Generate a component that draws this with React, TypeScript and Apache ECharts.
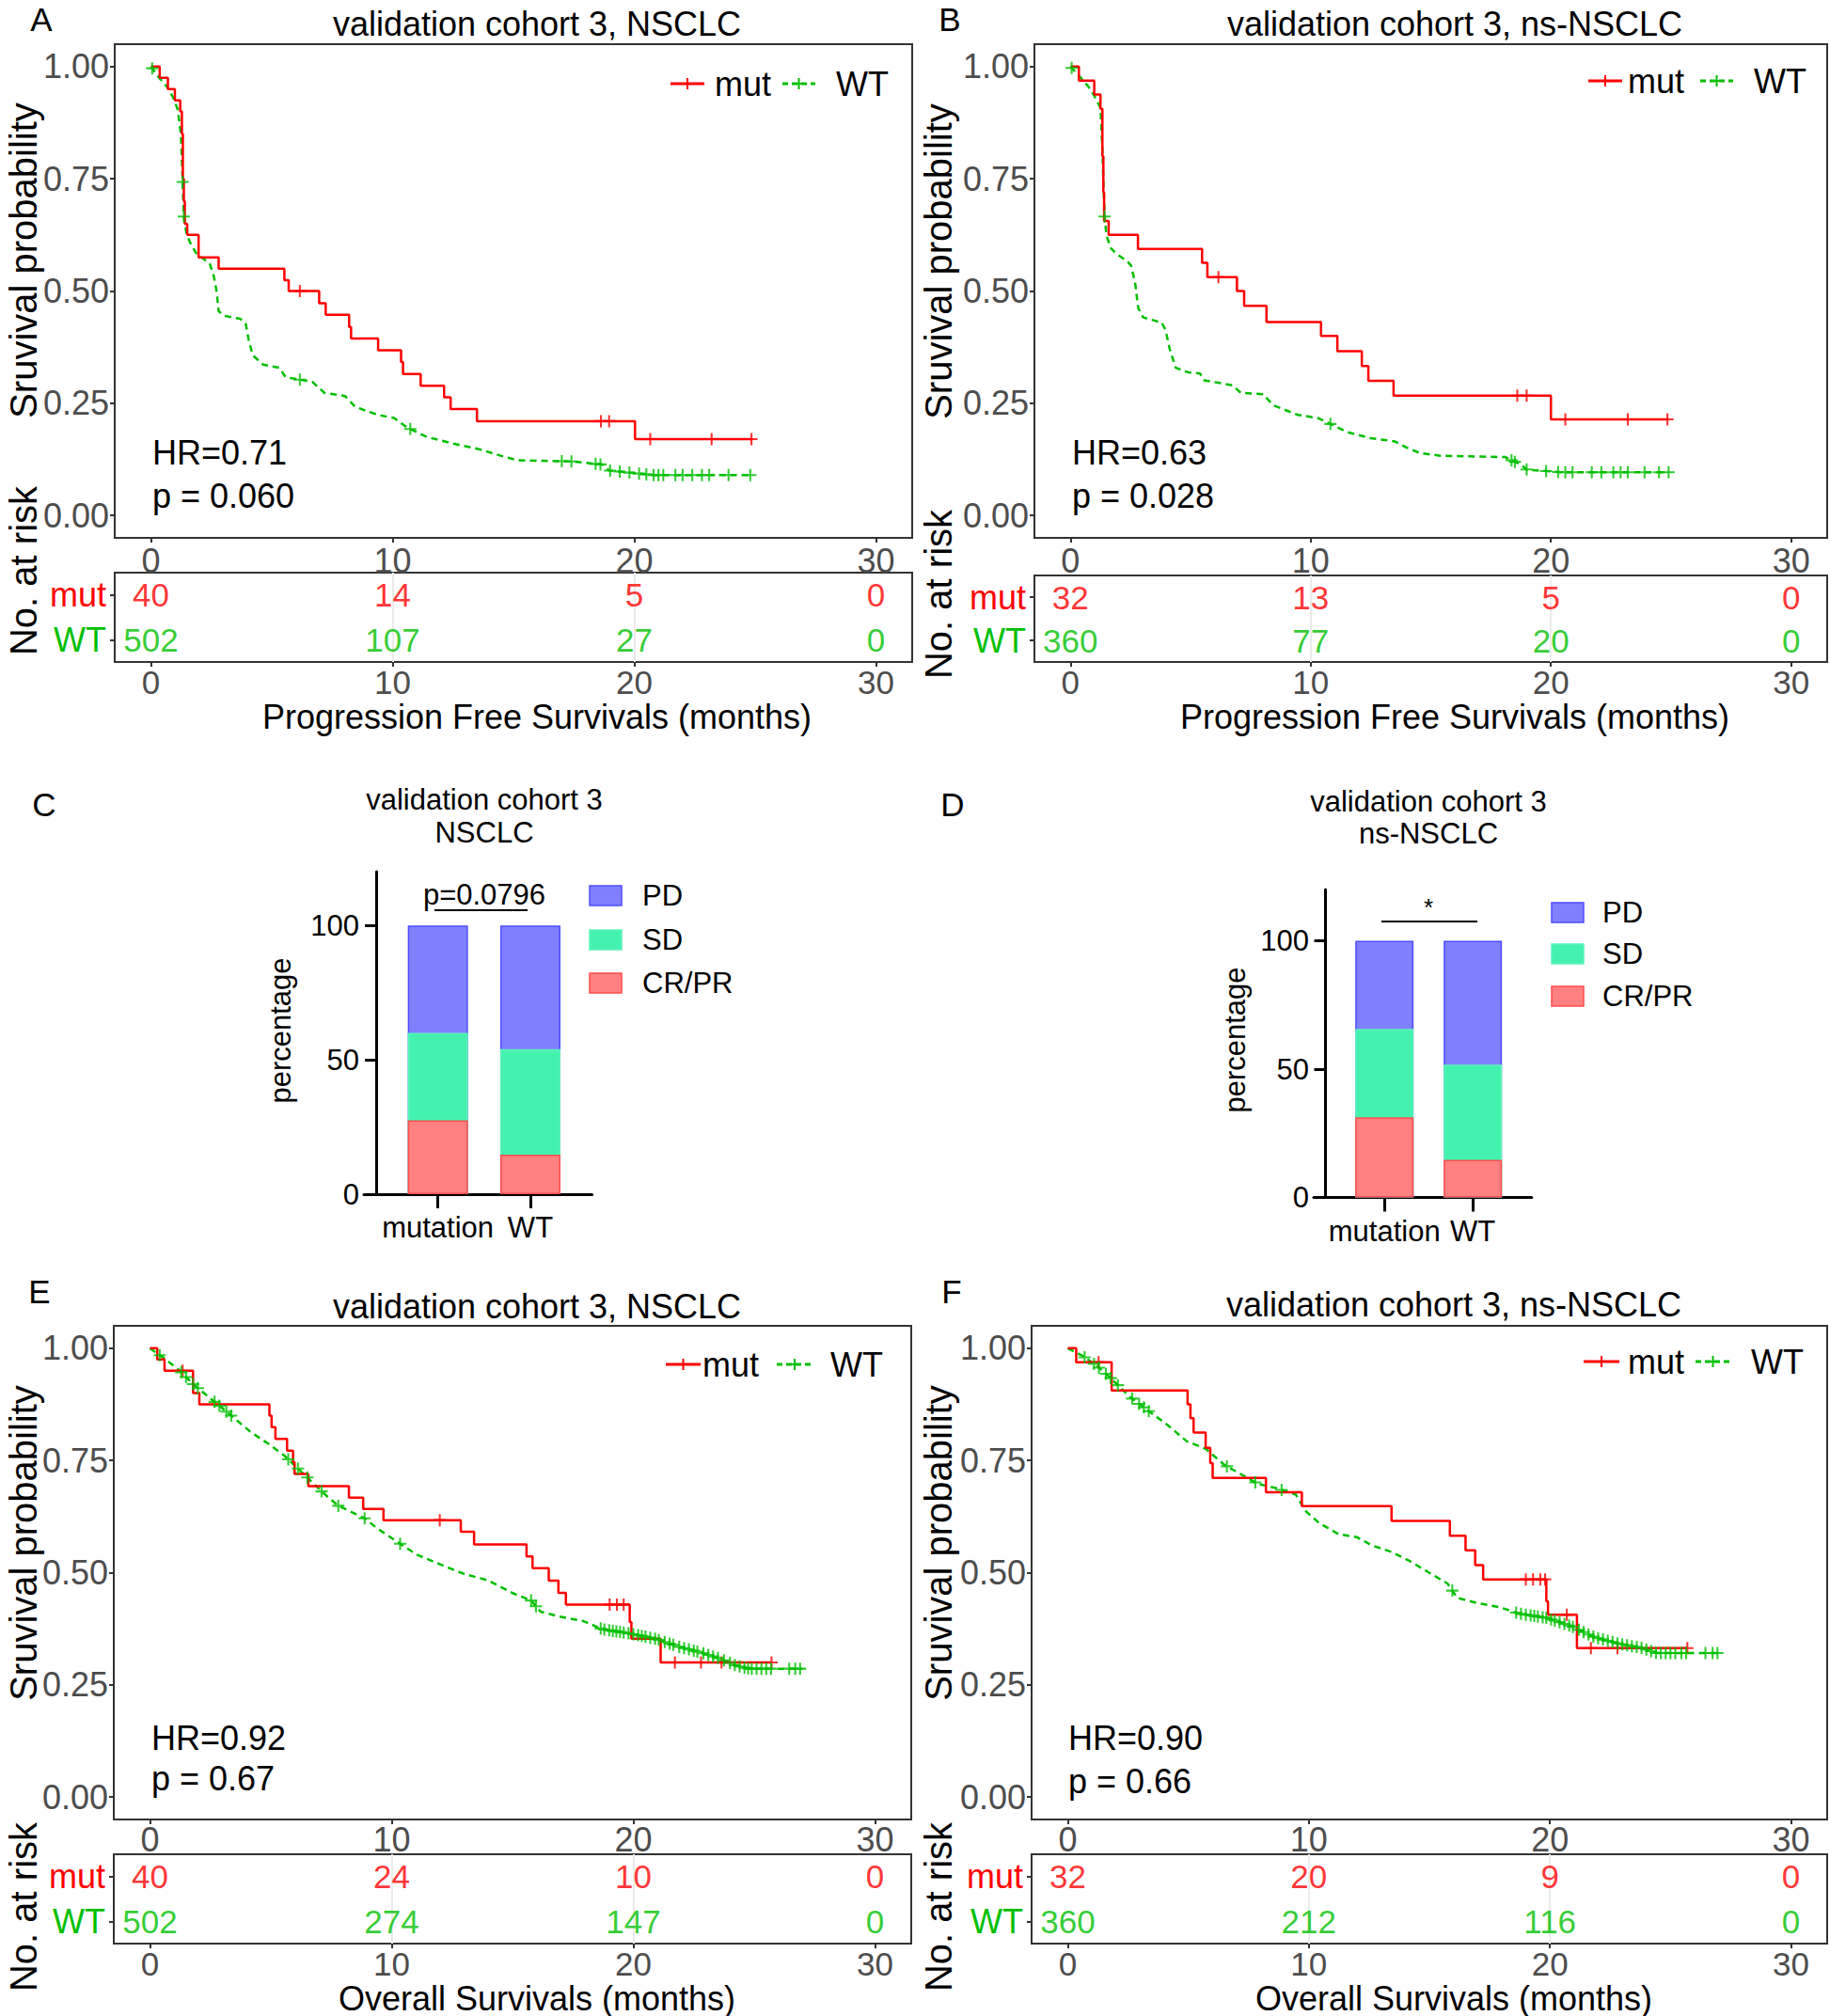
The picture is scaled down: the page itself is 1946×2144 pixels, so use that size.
import React, { useEffect, useRef } from 'react';
import * as echarts from 'echarts';

const FONT = "'Liberation Sans', Arial, Helvetica, sans-serif";
const RED = '#FF0000';
const GREEN = '#00BF00';
const AXIS_TEXT = '#4D4D4D';
const FRAME = '#333333';
const PD_COLOR = '#8080FF';
const PD_BORDER = '#4D4DFF';
const SD_COLOR = '#44F2AF';
const SD_BORDER = '#5CF4BA';
const CR_COLOR = '#FF8080';
const CR_BORDER = '#FF4D4D';

// ---------- shared ticks ----------
const timeTicks = [0, 10, 20, 30];
const survTicks = [0, 0.25, 0.5, 0.75, 1];
const pctTicks = [0, 50, 100];
const riskGroups = ['mut', 'WT'];

// ---------- Panel A: PFS, NSCLC ----------
const pfsNsclcMutTimes = [0, 0.36, 0.7, 0.99, 1.21, 1.28, 1.32, 1.36, 1.4, 1.5, 1.97, 2.8, 5.52, 5.7, 6.96, 7.23, 8.2, 8.28, 9.4, 10.35, 10.43, 11.16, 12.13, 12.4, 13.49, 20.03, 24.9];
const pfsNsclcMutSurv = [1, 0.975, 0.95, 0.925, 0.9, 0.85, 0.75, 0.7, 0.65, 0.625, 0.575, 0.55, 0.524, 0.5, 0.473, 0.447, 0.42, 0.394, 0.368, 0.342, 0.315, 0.289, 0.263, 0.237, 0.21, 0.17, 0.17];
const pfsNsclcMutCensor = [6.16, 18.62, 18.96, 20.66, 23.2, 24.85];
const pfsNsclcWtTimes = [0, 0.31, 0.69, 0.91, 1.11, 1.24, 1.31, 1.36, 1.46, 1.6, 1.86, 2.09, 2.43, 2.6, 2.72, 2.8, 3.03, 3.7, 3.92, 4.04, 4.21, 4.64, 5.31, 5.57, 6.67, 7.18, 8.03, 8.45, 9.38, 10.06, 10.6, 11.41, 12.43, 13.62, 14.47, 15.15, 17.5, 18.71, 18.96, 20.8, 24.9];
const pfsNsclcWtSurv = [1, 0.977, 0.953, 0.932, 0.904, 0.848, 0.743, 0.666, 0.631, 0.61, 0.585, 0.575, 0.561, 0.533, 0.498, 0.455, 0.445, 0.438, 0.427, 0.392, 0.357, 0.336, 0.329, 0.308, 0.298, 0.273, 0.266, 0.242, 0.224, 0.217, 0.196, 0.175, 0.161, 0.147, 0.133, 0.123, 0.12, 0.113, 0.1, 0.09, 0.09];
const pfsNsclcWtCensor = [0.05, 1.31, 1.36, 6.16, 10.73, 17.0, 17.4, 18.4, 18.6, 19.0, 19.4, 19.8, 20.2, 20.5, 20.8, 21.0, 21.2, 21.7, 22.0, 22.4, 22.8, 23.1, 23.9, 24.8];
const pfsNsclcRiskMut = [40, 14, 5, 0];
const pfsNsclcRiskWt = [502, 107, 27, 0];

// ---------- Panel B: PFS, ns-NSCLC ----------
const pfsNsMutTimes = [0, 0.35, 0.99, 1.25, 1.33, 1.37, 1.4, 1.59, 2.81, 5.48, 5.7, 6.93, 7.23, 8.16, 10.43, 11.11, 12.13, 12.4, 13.45, 20.0, 24.9];
const pfsNsMutSurv = [1, 0.969, 0.938, 0.906, 0.8, 0.72, 0.656, 0.625, 0.594, 0.563, 0.531, 0.5, 0.467, 0.431, 0.4, 0.366, 0.333, 0.3, 0.267, 0.214, 0.214];
const pfsNsMutCensor = [6.16, 18.6, 18.99, 20.6, 23.2, 24.85];
const pfsNsWtTimes = [0, 0.33, 0.74, 0.99, 1.25, 1.33, 1.42, 1.5, 1.67, 1.93, 2.35, 2.52, 2.69, 2.82, 3.03, 3.79, 3.96, 4.13, 4.38, 4.89, 5.4, 5.57, 6.75, 7.09, 8.02, 8.45, 9.47, 10.3, 10.7, 11.5, 12.5, 13.5, 14.0, 14.55, 15.4, 18.1, 18.78, 19.0, 20.5, 24.9];
const pfsNsWtSurv = [1, 0.981, 0.956, 0.935, 0.908, 0.813, 0.666, 0.624, 0.596, 0.582, 0.567, 0.557, 0.519, 0.462, 0.441, 0.43, 0.413, 0.371, 0.329, 0.319, 0.316, 0.301, 0.29, 0.273, 0.27, 0.245, 0.224, 0.217, 0.207, 0.186, 0.172, 0.165, 0.151, 0.139, 0.133, 0.13, 0.112, 0.102, 0.096, 0.096];
const pfsNsWtCensor = [0.05, 1.42, 10.82, 18.36, 18.5, 18.99, 19.8, 20.3, 20.6, 20.9, 21.7, 22.1, 22.6, 22.9, 23.2, 23.9, 24.5, 24.9];
const pfsNsRiskMut = [32, 13, 5, 0];
const pfsNsRiskWt = [360, 77, 20, 0];

// ---------- Panel E: OS, NSCLC ----------
const osNsclcMutTimes = [0, 0.3, 0.6, 1.78, 2.04, 4.94, 5.03, 5.19, 5.67, 5.92, 5.98, 6.55, 8.23, 8.82, 9.66, 12.86, 13.41, 15.58, 15.83, 16.5, 16.9, 17.21, 19.85, 19.92, 21.13, 25.7];
const osNsclcMutSurv = [1, 0.975, 0.95, 0.9, 0.875, 0.85, 0.824, 0.798, 0.772, 0.746, 0.72, 0.693, 0.667, 0.642, 0.617, 0.591, 0.563, 0.536, 0.51, 0.482, 0.455, 0.429, 0.39, 0.353, 0.3, 0.3];
const osNsclcMutCensor = [1.35, 11.99, 19.02, 19.32, 19.6, 21.72, 22.8, 23.65, 25.72];
const osNsclcWtTimes = [0, 0.6, 1.19, 1.78, 2.57, 3.36, 4.15, 4.93, 5.53, 6.02, 6.51, 7.1, 7.79, 8.88, 9.47, 10.25, 11.04, 12.03, 13.0, 13.98, 14.98, 15.77, 16.16, 16.95, 17.94, 18.72, 19.9, 20.89, 21.88, 22.86, 23.65, 24.24, 24.8, 27.0];
const osNsclcWtSurv = [1, 0.977, 0.952, 0.92, 0.885, 0.85, 0.814, 0.786, 0.762, 0.737, 0.712, 0.681, 0.649, 0.621, 0.596, 0.568, 0.54, 0.518, 0.497, 0.483, 0.455, 0.438, 0.413, 0.402, 0.392, 0.374, 0.364, 0.353, 0.335, 0.321, 0.307, 0.293, 0.286, 0.286];
const osNsclcWtCensor = [0.4, 1.29, 1.49, 1.78, 1.98, 2.67, 2.87, 3.16, 3.36, 5.72, 6.12, 6.51, 7.1, 7.79, 8.88, 10.35, 15.77, 15.97, 18.65, 18.8, 19.0, 19.15, 19.3, 19.45, 19.6, 19.8, 20.0, 20.2, 20.35, 20.5, 20.7, 20.9, 21.05, 21.3, 21.5, 21.65, 21.9, 22.1, 22.3, 22.5, 22.65, 22.9, 23.1, 23.3, 23.5, 23.75, 24.0, 24.2, 24.4, 24.6, 24.75, 24.9, 25.1, 25.3, 25.5, 25.7, 26.45, 26.7, 26.9];
const osNsclcRiskMut = [40, 24, 10, 0];
const osNsclcRiskWt = [502, 274, 147, 0];

// ---------- Panel F: OS, ns-NSCLC ----------
const osNsMutTimes = [0, 0.35, 1.82, 4.97, 5.09, 5.22, 5.72, 5.91, 6.01, 8.22, 9.71, 13.43, 15.85, 16.5, 16.9, 17.23, 19.85, 19.92, 21.12, 25.7];
const osNsMutSurv = [1, 0.969, 0.906, 0.875, 0.844, 0.812, 0.778, 0.744, 0.711, 0.679, 0.648, 0.615, 0.582, 0.55, 0.517, 0.485, 0.436, 0.406, 0.332, 0.332];
const osNsMutCensor = [1.28, 19.0, 19.3, 19.6, 19.8, 20.7, 21.7, 22.8, 25.7];
const osNsWtTimes = [0, 0.59, 1.18, 1.77, 2.57, 3.36, 4.14, 4.93, 5.72, 6.5, 7.88, 8.67, 9.46, 9.85, 10.44, 11.23, 12.0, 12.6, 13.39, 14.18, 14.96, 15.75, 16.15, 16.93, 17.92, 18.7, 19.88, 20.87, 21.85, 22.84, 23.82, 24.41, 26.97];
const osNsWtSurv = [1, 0.984, 0.962, 0.934, 0.892, 0.86, 0.829, 0.793, 0.776, 0.74, 0.698, 0.688, 0.674, 0.638, 0.61, 0.586, 0.579, 0.561, 0.547, 0.526, 0.501, 0.476, 0.444, 0.433, 0.423, 0.409, 0.399, 0.381, 0.356, 0.342, 0.332, 0.321, 0.321];
const osNsWtCensor = [0.7, 1.09, 1.29, 1.58, 1.78, 2.08, 2.67, 2.96, 3.16, 3.36, 6.6, 7.78, 8.87, 15.95, 18.6, 18.8, 19.0, 19.2, 19.35, 19.5, 19.7, 19.85, 20.05, 20.2, 20.4, 20.6, 20.8, 20.95, 21.2, 21.4, 21.6, 21.8, 22.0, 22.2, 22.4, 22.6, 22.8, 23.0, 23.2, 23.4, 23.6, 23.8, 24.0, 24.2, 24.4, 24.6, 24.8, 25.0, 25.2, 25.45, 25.65, 26.45, 26.75, 26.95];
const osNsRiskMut = [32, 20, 9, 0];
const osNsRiskWt = [360, 212, 116, 0];

// ---------- Panels C / D: response (percentage) ----------
const responseGroups = ['mutation', 'WT'];
const nsclcCrPr = [27.5, 14.7];
const nsclcSd = [32.5, 39.3];
const nsclcPd = [40, 46];
const nsNsclcCrPr = [31.25, 14.7];
const nsNsclcSd = [34.4, 37.1];
const nsNsclcPd = [34.35, 48.2];

// ---------- helpers ----------
function stepAt(ts: number[], ss: number[], t: number) {
  let v = ss[0];
  for (let i = 0; i < ts.length; i++) if (ts[i] <= t) v = ss[i];
  return v;
}
function lerpAt(ts: number[], ss: number[], t: number) {
  if (t <= ts[0]) return ss[0];
  for (let i = 1; i < ts.length; i++) {
    if (t <= ts[i]) {
      const f = (t - ts[i - 1]) / (ts[i] - ts[i - 1]);
      return ss[i - 1] + f * (ss[i] - ss[i - 1]);
    }
  }
  return ss[ss.length - 1];
}
const zip = (a: number[], b: number[]) => a.map((v, i) => [v, b[i]]);
const PLUS = 'path://M0,4.2H10V5.8H0Z M4.2,0H5.8V10H4.2Z';

function T(x: number, y: number, text: string, size: number, extra: any = {}) {
  return {
    type: 'text', x, y, rotation: extra.rotation || 0, silent: true,
    style: {
      text, fontSize: size, fontFamily: FONT, fill: extra.color || '#000',
      align: extra.align || 'center', verticalAlign: 'middle',
    },
  };
}
function L(x1: number, y1: number, x2: number, y2: number, color: string, w: number, dash?: number[]) {
  return { type: 'line', silent: true, shape: { x1, y1, x2, y2 }, style: { stroke: color, lineWidth: w, lineDash: dash } };
}
function plusMark(x: number, y: number, color: string) {
  return [L(x - 6, y, x + 6, y, color, 2), L(x, y - 6, x, y + 6, color, 2)];
}

const kmPanels = [
  {
    letter: ['A', 44, 20], grid: { left: 122, top: 47, width: 848, height: 525 }, risk: { left: 122, top: 609, width: 848, height: 95 },
    topLabelMargin: 6,
    mutT: pfsNsclcMutTimes, mutS: pfsNsclcMutSurv, mutC: pfsNsclcMutCensor,
    wtT: pfsNsclcWtTimes, wtS: pfsNsclcWtSurv, wtC: pfsNsclcWtCensor,
    riskMut: pfsNsclcRiskMut, riskWt: pfsNsclcRiskWt,
    title: ['validation cohort 3, NSCLC', 571, 25], hr: ['HR=0.71', 162, 481], p: ['p = 0.060', 162, 527],
    xTitle: ['Progression Free Survivals (months)', 571, 762], yTitle: [25, 277], riskTitle: [25, 607],
    legend: { y: 89, mut: [713, 749, 760], wt: [832, 867, 889] },
  },
  {
    letter: ['B', 1010, 20], grid: { left: 1100, top: 47, width: 843, height: 525 }, risk: { left: 1100, top: 612, width: 843, height: 92 },
    topLabelMargin: 6,
    mutT: pfsNsMutTimes, mutS: pfsNsMutSurv, mutC: pfsNsMutCensor,
    wtT: pfsNsWtTimes, wtS: pfsNsWtSurv, wtC: pfsNsWtCensor,
    riskMut: pfsNsRiskMut, riskWt: pfsNsRiskWt,
    title: ['validation cohort 3, ns-NSCLC', 1547, 25], hr: ['HR=0.63', 1140, 481], p: ['p = 0.028', 1140, 527],
    xTitle: ['Progression Free Survivals (months)', 1547, 762], yTitle: [998, 278], riskTitle: [998, 632],
    legend: { y: 86, mut: [1689, 1725, 1731], wt: [1808, 1843, 1865] },
  },
  {
    letter: ['E', 42, 1373], grid: { left: 121, top: 1410, width: 848, height: 525 }, risk: { left: 121, top: 1972, width: 848, height: 95 },
    topLabelMargin: 3,
    mutT: osNsclcMutTimes, mutS: osNsclcMutSurv, mutC: osNsclcMutCensor,
    wtT: osNsclcWtTimes, wtS: osNsclcWtSurv, wtC: osNsclcWtCensor,
    riskMut: osNsclcRiskMut, riskWt: osNsclcRiskWt,
    title: ['validation cohort 3, NSCLC', 571, 1389], hr: ['HR=0.92', 161, 1848], p: ['p = 0.67', 161, 1891],
    xTitle: ['Overall Survivals (months)', 571, 2125], yTitle: [25, 1641], riskTitle: [25, 2028],
    legend: { y: 1451, mut: [708, 745, 747], wt: [826, 864, 883] },
  },
  {
    letter: ['F', 1012, 1373], grid: { left: 1097, top: 1410, width: 846, height: 525 }, risk: { left: 1097, top: 1972, width: 846, height: 95 },
    topLabelMargin: 3,
    mutT: osNsMutTimes, mutS: osNsMutSurv, mutC: osNsMutCensor,
    wtT: osNsWtTimes, wtS: osNsWtSurv, wtC: osNsWtCensor,
    riskMut: osNsRiskMut, riskWt: osNsRiskWt,
    title: ['validation cohort 3, ns-NSCLC', 1546, 1387], hr: ['HR=0.90', 1136, 1848], p: ['p = 0.66', 1136, 1894],
    xTitle: ['Overall Survivals (months)', 1546, 2125], yTitle: [998, 1641], riskTitle: [998, 2028],
    legend: { y: 1448, mut: [1684, 1722, 1731], wt: [1803, 1840, 1862] },
  },
];

const groupPos = [2, 5];
const barPanels = [
  {
    letter: ['C', 47, 855], grid: { left: 387, top: 927, width: 242.5, height: 343 }, barWidth: 64,
    crpr: nsclcCrPr, sd: nsclcSd, pd: nsclcPd,
    title: [['validation cohort 3', 515, 850], ['NSCLC', 515, 885]],
    sig: { text: 'p=0.0796', tx: 515, ty: 951, size: 31, x1: 462, x2: 561, y: 968 },
    yName: [298, 1096],
    legend: { x: 627, ys: [942, 989, 1035], tx: 683 },
  },
  {
    letter: ['D', 1013, 855], grid: { left: 1397, top: 946, width: 231.8, height: 327.5 }, barWidth: 62,
    crpr: nsNsclcCrPr, sd: nsNsclcSd, pd: nsNsclcPd,
    title: [['validation cohort 3', 1519, 852], ['ns-NSCLC', 1519, 886]],
    sig: { text: '*', tx: 1519, ty: 965, size: 26, x1: 1469, x2: 1571, y: 980 },
    yName: [1313, 1106],
    legend: { x: 1650, ys: [960, 1004, 1049], tx: 1704 },
  },
];

function buildOption() {
  const grid: any[] = [];
  const xAxis: any[] = [];
  const yAxis: any[] = [];
  const series: any[] = [];
  const elements: any[] = [];

  kmPanels.forEach((p, i) => {
    const gi = 2 * i;
    const ri = 2 * i + 1;
    grid.push({ ...p.grid, show: true, borderColor: FRAME, borderWidth: 2, backgroundColor: '#fff' });
    grid.push({ ...p.risk, show: true, borderColor: FRAME, borderWidth: 2, backgroundColor: '#fff' });
    const xCommon = {
      type: 'value', min: -1.5, max: 31.5,
      axisLine: { show: false, onZero: false }, splitLine: { show: false },
      axisTick: { show: true, customValues: timeTicks, length: 5, lineStyle: { color: FRAME, width: 2 } },
    };
    xAxis.push({ ...xCommon, gridIndex: gi, axisLabel: { customValues: timeTicks, fontSize: 36, color: AXIS_TEXT, margin: p.topLabelMargin, fontFamily: FONT } });
    xAxis.push({ ...xCommon, gridIndex: ri, axisLabel: { customValues: timeTicks, fontSize: 35, color: AXIS_TEXT, margin: 4, fontFamily: FONT } });
    yAxis.push({
      gridIndex: gi, type: 'value', min: -0.05, max: 1.05,
      axisLine: { show: false, onZero: false }, splitLine: { show: false },
      axisTick: { show: true, customValues: survTicks, length: 5, lineStyle: { color: FRAME, width: 2 } },
      axisLabel: { customValues: survTicks, fontSize: 36, color: AXIS_TEXT, margin: 6, fontFamily: FONT, formatter: (v: number) => v.toFixed(2) },
    });
    yAxis.push({
      gridIndex: ri, type: 'category', data: riskGroups, inverse: true,
      axisLine: { show: false, onZero: false }, splitLine: { show: false },
      axisTick: { show: true, alignWithLabel: true, interval: 0, length: 5, lineStyle: { color: FRAME, width: 2 } },
      axisLabel: { interval: 0, fontSize: 36, margin: 9, fontFamily: FONT, color: (v: string) => (v === 'mut' ? RED : GREEN) },
    });

    series.push({
      type: 'line', name: 'WT', xAxisIndex: gi, yAxisIndex: gi, data: zip(p.wtT, p.wtS),
      symbol: 'none', lineStyle: { color: GREEN, width: 2.5, type: [7, 5] }, itemStyle: { color: GREEN }, z: 2, silent: true,
    });
    series.push({
      type: 'line', name: 'mut', xAxisIndex: gi, yAxisIndex: gi, data: zip(p.mutT, p.mutS), step: 'end',
      symbol: 'none', lineStyle: { color: RED, width: 2.5 }, itemStyle: { color: RED }, z: 3, silent: true,
    });
    series.push({
      type: 'scatter', name: 'mut', xAxisIndex: gi, yAxisIndex: gi,
      data: p.mutC.map((t) => [t, stepAt(p.mutT, p.mutS, t)]),
      symbol: PLUS, symbolSize: 13, itemStyle: { color: RED }, z: 4, silent: true,
    });
    series.push({
      type: 'scatter', name: 'WT', xAxisIndex: gi, yAxisIndex: gi,
      data: p.wtC.map((t) => [t, lerpAt(p.wtT, p.wtS, t)]),
      symbol: PLUS, symbolSize: 13, itemStyle: { color: GREEN }, z: 4, silent: true,
    });
    series.push({
      type: 'scatter', name: 'mut', xAxisIndex: ri, yAxisIndex: ri,
      data: timeTicks.map((t, j) => [t, 0, p.riskMut[j]]),
      symbolSize: 1, itemStyle: { color: 'rgba(0,0,0,0)' }, silent: true, z: 3,
      label: { show: true, position: 'inside', formatter: (q: any) => String(q.data[2]), color: RED, fontSize: 35, fontFamily: FONT },
    });
    series.push({
      type: 'scatter', name: 'WT', xAxisIndex: ri, yAxisIndex: ri,
      data: timeTicks.map((t, j) => [t, 1, p.riskWt[j]]),
      symbolSize: 1, itemStyle: { color: 'rgba(0,0,0,0)' }, silent: true, z: 3,
      label: { show: true, position: 'inside', formatter: (q: any) => String(q.data[2]), color: GREEN, fontSize: 35, fontFamily: FONT },
      markLine: {
        silent: true, symbol: 'none', label: { show: false }, z: 1,
        lineStyle: { color: '#EBEBEB', width: 2, type: 'solid' },
        data: timeTicks.slice(1, 3).map((t) => ({ xAxis: t })),
      },
    });

    // texts
    elements.push(T(p.letter[1] as number, p.letter[2] as number, p.letter[0] as string, 35));
    elements.push(T(p.title[1] as number, p.title[2] as number, p.title[0] as string, 36));
    elements.push(T(p.hr[1] as number, p.hr[2] as number, p.hr[0] as string, 36, { align: 'left' }));
    elements.push(T(p.p[1] as number, p.p[2] as number, p.p[0] as string, 36, { align: 'left' }));
    elements.push(T(p.xTitle[1] as number, p.xTitle[2] as number, p.xTitle[0] as string, 36));
    elements.push(T(p.yTitle[0], p.yTitle[1], 'Sruvival probability', 40, { rotation: Math.PI / 2 }));
    elements.push(T(p.riskTitle[0], p.riskTitle[1], 'No. at risk', 40, { rotation: Math.PI / 2 }));
    // legend
    const lg = p.legend;
    elements.push(L(lg.mut[0], lg.y, lg.mut[1], lg.y, RED, 3));
    elements.push(...plusMark((lg.mut[0] + lg.mut[1]) / 2, lg.y, RED));
    elements.push(T(lg.mut[2], lg.y, 'mut', 36, { align: 'left' }));
    elements.push(L(lg.wt[0], lg.y, lg.wt[1], lg.y, GREEN, 3, [6, 4]));
    elements.push(...plusMark((lg.wt[0] + lg.wt[1]) / 2, lg.y, GREEN));
    elements.push(T(lg.wt[2], lg.y, 'WT', 36, { align: 'left' }));
  });

  barPanels.forEach((b, k) => {
    const gi = 8 + k;
    grid.push({ ...b.grid });
    xAxis.push({
      gridIndex: gi, type: 'value', min: -0.4, max: 7, splitLine: { show: false },
      axisLine: { show: true, onZero: false, lineStyle: { color: '#000', width: 3 } },
      axisTick: { show: true, customValues: groupPos, length: 15, lineStyle: { color: '#000', width: 3 } },
      axisLabel: {
        customValues: groupPos, fontSize: 31, color: '#000', margin: 20, fontFamily: FONT,
        formatter: (v: number) => responseGroups[groupPos.indexOf(v)] ?? '',
      },
    });
    yAxis.push({
      gridIndex: gi, type: 'value', min: 0, max: 120, splitLine: { show: false },
      axisLine: { show: true, onZero: true, lineStyle: { color: '#000', width: 3 } },
      axisTick: { show: true, customValues: pctTicks, length: 12, lineStyle: { color: '#000', width: 3 } },
      axisLabel: { customValues: pctTicks, fontSize: 31, color: '#000', margin: 5, fontFamily: FONT },
    });
    // cumulative tops of the stacked segments (drawn back to front, overlapping)
    const sdTop = b.crpr.map((v, j) => v + b.sd[j]);
    const pdTop = sdTop.map((v, j) => v + b.pd[j]);
    const parts: [string, number[], string, string][] = [
      ['PD', pdTop, PD_COLOR, PD_BORDER],
      ['SD', sdTop, SD_COLOR, SD_BORDER],
      ['CR/PR', b.crpr, CR_COLOR, CR_BORDER],
    ];
    parts.forEach(([name, vals, color, border], idx) => {
      series.push({
        type: 'bar', name, xAxisIndex: gi, yAxisIndex: gi, barWidth: b.barWidth, barGap: '-100%',
        data: groupPos.map((x, j) => [x, vals[j]]), z: 2 + idx,
        itemStyle: { color, borderColor: border, borderWidth: 1.5 }, silent: true,
      });
    });
    elements.push(T(b.letter[1] as number, b.letter[2] as number, b.letter[0] as string, 35));
    b.title.forEach((t) => elements.push(T(t[1] as number, t[2] as number, t[0] as string, 31)));
    elements.push(T(b.sig.tx, b.sig.ty, b.sig.text, b.sig.size));
    elements.push(L(b.sig.x1, b.sig.y, b.sig.x2, b.sig.y, '#000', 2));
    elements.push(T(b.yName[0], b.yName[1], 'percentage', 31, { rotation: Math.PI / 2 }));
    const leg: [string, string, string][] = [['PD', PD_COLOR, PD_BORDER], ['SD', SD_COLOR, SD_BORDER], ['CR/PR', CR_COLOR, CR_BORDER]];
    leg.forEach(([name, color, border], j) => {
      elements.push({
        type: 'rect', silent: true, shape: { x: b.legend.x, y: b.legend.ys[j], width: 34, height: 21 },
        style: { fill: color, stroke: border, lineWidth: 1.5 },
      });
      elements.push(T(b.legend.tx, b.legend.ys[j] + 10.5, name, 31, { align: 'left' }));
    });
  });

  return {
    animation: false,
    backgroundColor: '#ffffff',
    textStyle: { fontFamily: FONT },
    grid, xAxis, yAxis, series,
    graphic: { elements },
  };
}

export default function App() {
  const ref = useRef<HTMLDivElement>(null);
  useEffect(() => {
    document.body.style.margin = '0';
    const chart = echarts.init(ref.current as HTMLDivElement, null, { renderer: 'svg' });
    chart.setOption(buildOption() as any);
    return () => chart.dispose();
  }, []);
  return <div ref={ref} style={{ position: 'absolute', left: 0, top: 0, width: 1946, height: 2144 }} />;
}
